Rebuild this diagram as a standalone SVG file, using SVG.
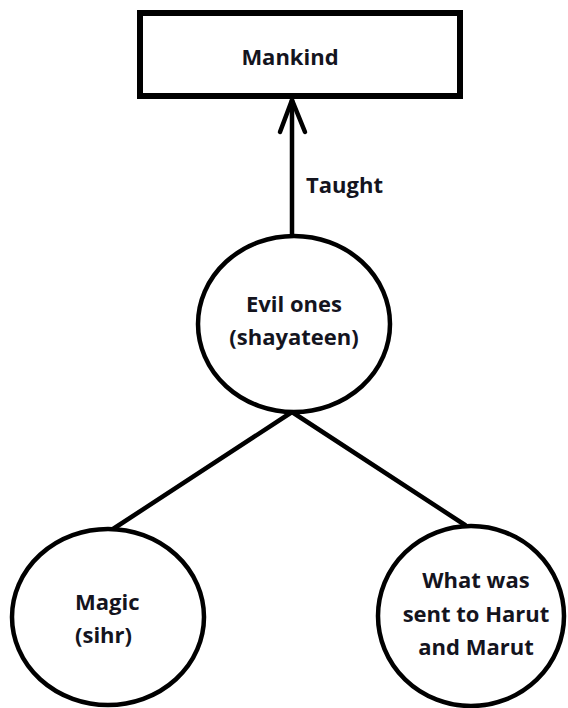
<svg xmlns="http://www.w3.org/2000/svg" width="568" height="708" viewBox="0 0 568 708">
<style>
.shape{fill:#fff;stroke:#000;stroke-width:4.5}
.edge{fill:none;stroke:#000;stroke-width:4.5;stroke-linecap:round;stroke-linejoin:round}
.t{font-family:"Open Sans","Liberation Sans",sans-serif;font-weight:bold;font-size:22px;fill:#14141e}
.c{text-anchor:middle}
</style>
<rect width="568" height="708" fill="#fff"/>
<g id="connectors">
<line class="edge" x1="292" y1="100" x2="292" y2="236"/>
<polyline class="edge" points="280,132 292,100 305,132"/>
<line class="edge" x1="292" y1="412" x2="113" y2="529"/>
<line class="edge" x1="292" y1="412" x2="465" y2="525"/>
<text class="t" x="306" y="193">Taught</text>
</g>
<g id="mankind">
<rect class="shape" x="140" y="13" width="320" height="83" style="stroke-width:6"/>
<text class="t c" x="290" y="65">Mankind</text>
</g>
<g id="evil-ones">
<ellipse class="shape" cx="294" cy="324" rx="96" ry="88"/>
<text class="t c" x="294" y="312">Evil ones</text>
<text class="t c" x="294" y="345">(shayateen)</text>
</g>
<g id="magic">
<ellipse class="shape" cx="108" cy="617" rx="96" ry="88"/>
<text class="t" x="75" y="610">Magic</text>
<text class="t" x="75" y="643">(sihr)</text>
</g>
<g id="harut-marut">
<ellipse class="shape" cx="471" cy="616" rx="93" ry="90"/>
<text class="t c" x="476" y="588">What was</text>
<text class="t c" x="476" y="622">sent to Harut</text>
<text class="t c" x="476" y="655">and Marut</text>
</g>
</svg>
